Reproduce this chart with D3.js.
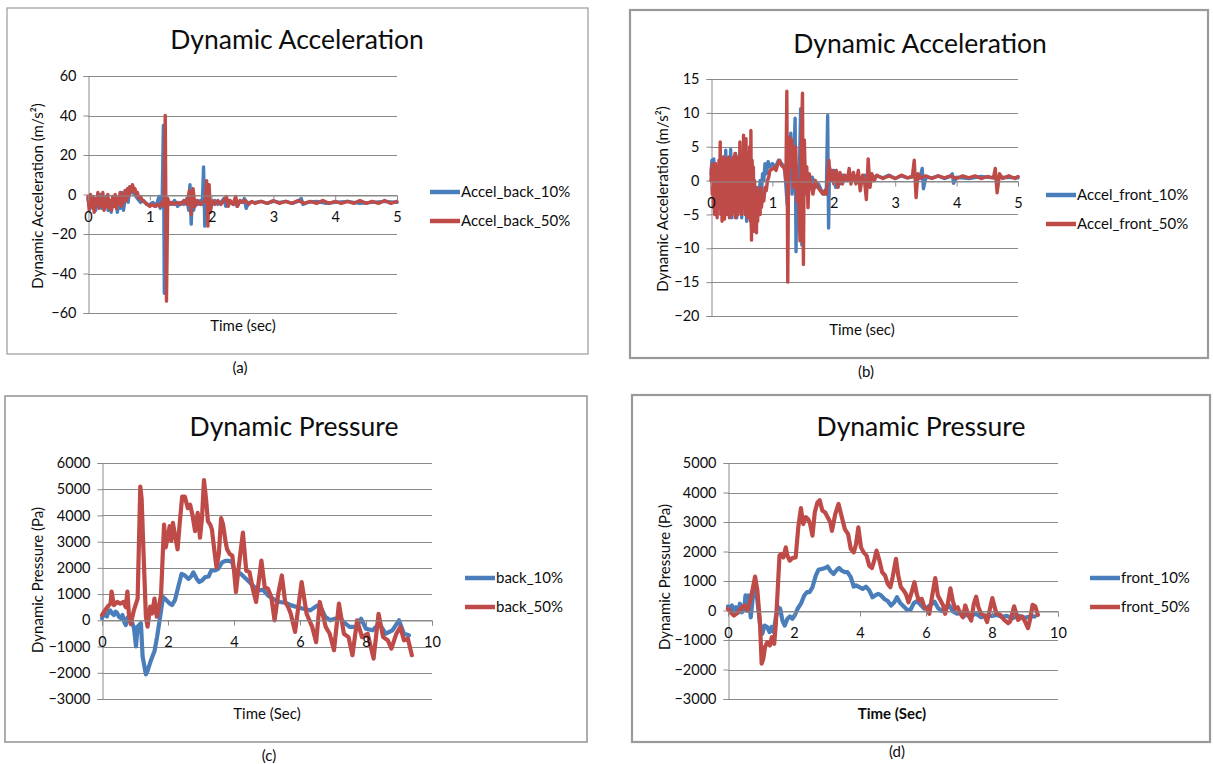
<!DOCTYPE html>
<html>
<head>
<meta charset="utf-8">
<script src="https://cdn.jsdelivr.net/npm/d3@7"></script>
<style>
  body { margin: 0; background: #fff; }
  svg { display: block; }
  text { font-family: Lato, "Open Sans", "DejaVu Sans", sans-serif; fill: #0d0d0d; }
</style>
</head>
<body>
<svg id="fig" width="1213" height="764"></svg>
<script>
// ---------- tick values ----------
const accelTimeTicks = [0, 1, 2, 3, 4, 5];
const pressureTimeTicks = [0, 2, 4, 6, 8, 10];
const accelBackTicks = [-60, -40, -20, 0, 20, 40, 60];
const accelFrontTicks = [-20, -15, -10, -5, 0, 5, 10, 15];
const pressureBackTicks = [-3000, -2000, -1000, 0, 1000, 2000, 3000, 4000, 5000, 6000];
const pressureFrontTicks = [-3000, -2000, -1000, 0, 1000, 2000, 3000, 4000, 5000];

// ---------- series: [time (s), value] ----------
const accelBack10 = [
  [0,-2],[0.025,-6],[0.05,-1],[0.075,-7],[0.1,-3],[0.125,-8],[0.15,-2],[0.175,-6],[0.2,0],[0.225,-7],
  [0.25,-2],[0.275,-5],[0.3,-1],[0.325,-8],[0.35,-4],[0.375,-9],[0.4,-2],[0.425,-6],[0.45,-1],[0.475,-9],
  [0.5,-3],[0.525,-7],[0.55,1],[0.575,-8],[0.6,-2],[0.625,2],[0.65,-4],[0.675,4],[0.7,1],[0.725,3],
  [0.75,0],[0.775,-1],[0.8,-2],[0.85,-4],[0.9,-3],[0.95,-5],[1.0,-5],[1.05,-4],[1.1,-6],[1.15,-1],
  [1.17,-7],[1.2,-4],[1.22,35],[1.235,-50],[1.25,-3],[1.28,-6],[1.32,-4],[1.36,-5],[1.4,-3],[1.45,-6],
  [1.5,-4],[1.55,-5],[1.6,-2],[1.63,-8],[1.65,5],[1.67,-15],[1.69,0],[1.71,-8],[1.74,-3],[1.78,-5],
  [1.82,-3],[1.85,-5],[1.87,14],[1.89,-16],[1.91,2],[1.93,-8],[1.96,-3],[2.0,-5],[2.05,-3],[2.1,-5],
  [2.15,-4],[2.2,-2],[2.23,-6],[2.26,-3],[2.3,-4],[2.35,-5],[2.38,-2],[2.41,-6],[2.45,-4],[2.5,-4],
  [2.53,-2],[2.56,-7],[2.6,-4],[2.7,-4],[2.8,-3.5],[2.9,-4.5],[3.0,-3.5],[3.1,-4],[3.2,-3.5],[3.3,-4.5],
  [3.4,-3.5],[3.45,-2],[3.48,-5],[3.55,-4],[3.7,-3.5],[3.85,-4.5],[4.0,-4],[4.2,-3.5],[4.4,-4.5],[4.6,-4],
  [4.8,-3.5],[5.0,-4]
];
const accelBack50 = [
  [0,-1],[0.02,-8],[0.04,0],[0.06,-6],[0.08,-1],[0.1,-9],[0.12,-2],[0.14,-5],[0.16,1],[0.18,-7],
  [0.2,-2],[0.22,-6],[0.24,1],[0.26,-8],[0.28,-3],[0.3,-6],[0.32,0],[0.34,-7],[0.36,-3],[0.38,-8],
  [0.4,-1],[0.42,-6],[0.44,0],[0.46,-7],[0.48,-2],[0.5,-5],[0.52,1],[0.54,-6],[0.56,0],[0.58,-4],
  [0.6,2],[0.62,-3],[0.64,3],[0.66,-1],[0.68,4],[0.7,1],[0.72,5],[0.74,2],[0.76,3],[0.78,0],
  [0.8,1],[0.82,-2],[0.85,-1],[0.88,-3],[0.92,-4],[0.96,-5],[1.0,-6],[1.04,-5],[1.08,-6],[1.12,-5],
  [1.16,-6],[1.2,-4],[1.23,-6],[1.25,40],[1.27,-54],[1.29,-2],[1.32,-5],[1.36,-4],[1.4,-5],[1.45,-4],
  [1.5,-5],[1.55,-3],[1.6,-5],[1.64,2],[1.67,-10],[1.7,3],[1.73,-6],[1.77,-3],[1.82,-5],[1.86,-4],
  [1.9,-3],[1.92,7],[1.94,-16],[1.96,5],[1.98,-9],[2.01,-3],[2.05,-5],[2.1,-3],[2.15,-5],[2.2,-3],
  [2.24,-1],[2.27,-6],[2.3,-3],[2.35,-5],[2.39,-1],[2.42,-6],[2.46,-3],[2.5,-4],[2.55,-3],[2.6,-5],
  [2.65,-3.5],[2.7,-4.5],[2.8,-3.5],[2.9,-4.5],[3.0,-3],[3.1,-4.5],[3.2,-3.5],[3.3,-4.5],[3.4,-3],[3.5,-4.5],
  [3.6,-3.5],[3.7,-4.5],[3.8,-3],[3.9,-4.5],[4.0,-3.5],[4.1,-4.5],[4.2,-3.5],[4.3,-4.5],[4.4,-3],[4.5,-4.5],
  [4.6,-3.5],[4.7,-4.5],[4.8,-3],[4.9,-4.5],[5.0,-3.5]
];
const accelFront10 = [
  [0,1],[0.015,3],[0.03,-1],[0.045,3.2],[0.06,-2],[0.08,2.5],[0.1,-3],[0.12,2],[0.14,-4],[0.16,3],
  [0.18,-2],[0.2,3.5],[0.22,-5],[0.24,4.5],[0.26,-3],[0.28,3],[0.3,-4],[0.32,4.6],[0.34,-5.5],[0.36,3],
  [0.38,-2],[0.4,4],[0.42,-5.5],[0.44,2],[0.46,-3],[0.48,4],[0.5,-5.5],[0.52,2],[0.54,-4],[0.56,3],
  [0.58,-6],[0.6,1],[0.62,-3],[0.64,0],[0.66,-7],[0.68,-1],[0.7,-7.5],[0.72,-2],[0.74,-6],[0.76,-1],
  [0.78,-4],[0.8,0],[0.82,-2],[0.84,1],[0.86,0],[0.88,2.5],[0.9,1],[0.93,2.8],[0.96,2],[1.0,2.5],
  [1.05,2],[1.1,3],[1.15,2.5],[1.2,2],[1.24,-3.5],[1.27,5],[1.3,7],[1.32,-2],[1.35,3],[1.37,9.2],
  [1.385,-10.5],[1.4,2],[1.43,-3],[1.46,10.6],[1.48,-9.5],[1.5,4],[1.53,-2],[1.56,1],[1.6,-1],[1.65,0.5],
  [1.7,-1],[1.75,-0.5],[1.8,-1.5],[1.85,-2],[1.88,-1],[1.9,9.6],[1.915,-7],[1.93,2],[1.96,0],[2.0,1.5],
  [2.03,-1],[2.07,0.5],[2.1,-0.5],[2.15,0.8],[2.2,0],[2.3,0.6],[2.4,0.2],[2.5,0.8],[2.6,0.3],[2.7,0.7],
  [2.8,0.4],[2.9,0.8],[3.0,0.3],[3.1,0.7],[3.2,0.4],[3.3,0.6],[3.4,0.3],[3.44,1.8],[3.46,-1.2],[3.5,0.5],
  [3.6,0.4],[3.7,0.7],[3.8,0.3],[3.9,0.6],[3.93,1],[3.95,-0.4],[4.0,0.5],[4.2,0.3],[4.4,0.6],[4.6,0.4],
  [4.8,0.5],[5.0,0.4]
];
const accelFront50 = [
  [0,0],[0.01,2],[0.02,-2],[0.03,2.5],[0.04,-4],[0.05,1],[0.06,-5],[0.07,2.5],[0.08,-3],[0.09,2],
  [0.1,-5.5],[0.11,1],[0.12,-2],[0.13,3],[0.14,-4],[0.15,5.7],[0.16,-5],[0.17,3],[0.18,-6],[0.19,2],
  [0.2,-3],[0.21,3.5],[0.22,-5.7],[0.23,2],[0.24,-4],[0.25,3.2],[0.26,-5],[0.27,1],[0.28,-3],[0.29,3.5],
  [0.3,-5.5],[0.31,2.5],[0.32,-4],[0.33,3],[0.34,-5],[0.35,1.5],[0.36,-4.5],[0.37,3.5],[0.38,-2],[0.39,4],
  [0.4,-5.5],[0.41,2],[0.42,-3],[0.43,3.5],[0.44,-5],[0.45,1.5],[0.46,-4],[0.47,5.7],[0.48,-4.5],[0.49,3],
  [0.5,-5],[0.51,4],[0.52,-3],[0.53,6.7],[0.54,-4],[0.55,3],[0.56,-5],[0.57,6.2],[0.58,-3],[0.59,4],
  [0.6,-5.5],[0.61,2],[0.62,-2],[0.63,5],[0.64,-6],[0.65,7.4],[0.66,-8.8],[0.67,3],[0.68,-5],[0.69,2],
  [0.7,-7.4],[0.71,0],[0.72,-6],[0.73,-1],[0.74,-7.7],[0.75,-2],[0.76,-6],[0.77,-1.5],[0.78,-5],[0.79,-2],
  [0.8,-5],[0.81,-1],[0.82,-4],[0.84,-2.5],[0.86,-3],[0.88,-1],[0.9,-1.5],[0.92,0],[0.94,0.5],[0.96,1.5],
  [1.0,1.7],[1.03,2],[1.06,1.5],[1.09,2.5],[1.12,3],[1.15,2.2],[1.18,2],[1.2,1.5],[1.22,0],[1.235,13.2],
  [1.25,-15],[1.265,4],[1.28,6.4],[1.3,2],[1.32,6],[1.34,-1],[1.36,2],[1.38,5],[1.4,-3],[1.42,0],
  [1.45,-8.9],[1.47,5],[1.49,12.9],[1.505,-12.4],[1.52,6],[1.54,-1],[1.56,2],[1.58,-4],[1.6,1],[1.63,-0.5],
  [1.66,-2],[1.7,0],[1.74,-1],[1.78,-1.5],[1.82,-2],[1.85,-1.5],[1.88,-2],[1.9,0.5],[1.92,3],[1.94,0],
  [1.97,1.5],[2.0,-0.5],[2.04,1.5],[2.07,-1],[2.1,1.2],[2.14,-0.5],[2.18,0.8],[2.22,0],[2.25,1.8],[2.28,-0.5],
  [2.32,1.2],[2.36,-0.5],[2.4,1.5],[2.43,-1.5],[2.47,0.8],[2.5,0],[2.53,-2.8],[2.56,3.2],[2.59,-1],[2.62,1],
  [2.66,0],[2.7,0.8],[2.8,0.3],[2.9,0.7],[3.0,0.3],[3.1,0.8],[3.2,0.4],[3.28,0.6],[3.31,3],[3.34,-2.5],
  [3.37,1],[3.42,0.4],[3.5,0.7],[3.6,0.3],[3.7,0.7],[3.8,0.4],[3.9,0.7],[4.0,0.3],[4.1,0.7],[4.2,0.4],
  [4.3,0.7],[4.4,0.3],[4.5,0.6],[4.6,0.4],[4.63,1.8],[4.66,-1.8],[4.7,1],[4.75,0.3],[4.85,0.7],[4.95,0.3],
  [5.0,0.6]
];
const pressureBack10 = [
  [0,80],[0.05,250],[0.1,200],[0.15,150],[0.2,330],[0.25,380],[0.31,260],[0.36,200],[0.41,330],[0.46,280],
  [0.51,140],[0.56,90],[0.62,200],[0.67,-50],[0.72,-180],[0.77,100],[0.82,10],[0.87,-60],[0.92,-110],[0.97,-300],
  [1.03,-990],[1.08,-240],[1.18,-110],[1.23,-1370],[1.33,-2060],[1.38,-1930],[1.49,-1500],[1.59,-1180],[1.67,-620],[1.74,-50],
  [1.85,890],[1.95,770],[2.05,640],[2.12,580],[2.21,770],[2.31,1270],[2.41,1770],[2.51,1710],[2.62,1580],[2.7,1670],
  [2.77,1830],[2.87,1580],[2.95,1460],[3.03,1520],[3.13,1650],[3.23,1670],[3.31,1900],[3.42,1900],[3.52,1960],[3.64,2210],
  [3.74,2270],[3.85,2270],[3.95,2210],[4.01,1900],[4.21,1770],[4.42,1520],[4.57,1330],[4.72,1140],[4.88,1160],[5.03,950],
  [5.18,820],[5.39,700],[5.59,660],[5.74,570],[5.9,510],[6.1,440],[6.31,380],[6.46,510],[6.59,600],[6.77,130],
  [6.92,0],[7.05,60],[7.2,100],[7.35,-100],[7.5,-250],[7.7,-250],[7.85,60],[8.0,-320],[8.2,-380],[8.4,-130],
  [8.6,-510],[8.8,-380],[9.0,0],[9.15,-510],[9.3,-570]
];
const pressureBack50 = [
  [0,200],[0.1,400],[0.2,560],[0.26,640],[0.29,1100],[0.36,580],[0.46,700],[0.55,640],[0.65,700],[0.72,500],
  [0.77,1100],[0.82,140],[0.87,-140],[0.97,400],[1.08,830],[1.16,5100],[1.2,4660],[1.26,2530],[1.33,140],[1.38,-240],
  [1.46,520],[1.52,260],[1.59,830],[1.66,140],[1.71,390],[1.79,1000],[1.88,3650],[1.93,2780],[2.0,3220],[2.05,3590],
  [2.1,3030],[2.15,3720],[2.2,3340],[2.29,2710],[2.36,3780],[2.43,4720],[2.51,4720],[2.6,4280],[2.67,4410],[2.74,4030],
  [2.82,3400],[2.9,4100],[2.97,3150],[3.03,3900],[3.09,5350],[3.15,4660],[3.21,3780],[3.28,3650],[3.33,3470],[3.4,2710],
  [3.47,2020],[3.54,2530],[3.61,3900],[3.67,3650],[3.74,3030],[3.79,2710],[3.87,2530],[3.95,2460],[4.0,1900],[4.06,1080],
  [4.13,1900],[4.27,3350],[4.37,1900],[4.47,1840],[4.57,1200],[4.67,700],[4.83,2280],[4.93,1270],[5.03,1200],[5.13,890],
  [5.23,0],[5.34,1010],[5.45,1710],[5.55,700],[5.64,510],[5.72,250],[5.85,-440],[6.05,1460],[6.2,250],[6.37,-250],
  [6.49,-830],[6.6,700],[6.78,-250],[6.9,-510],[7.03,-1140],[7.18,640],[7.33,-510],[7.47,-640],[7.59,-1330],[7.73,0],
  [7.88,-640],[8.05,-510],[8.23,-1460],[8.38,250],[8.52,-640],[8.66,-760],[8.77,-1080],[8.92,-510],[9.04,-250],[9.15,-760],
  [9.27,-700],[9.39,-1330]
];
const pressureFront10 = [
  [0,140],[0.06,60],[0.12,170],[0.18,-110],[0.24,110],[0.31,-60],[0.36,230],[0.42,-60],[0.49,60],[0.53,510],
  [0.57,0],[0.63,510],[0.69,-230],[0.76,560],[0.82,900],[0.89,340],[0.97,-450],[1.04,-790],[1.11,-510],[1.19,-560],
  [1.26,-730],[1.32,-560],[1.38,-730],[1.45,-230],[1.52,110],[1.58,60],[1.65,-340],[1.72,-510],[1.8,-280],[1.88,-200],
  [1.95,-280],[2.02,-170],[2.11,60],[2.21,230],[2.31,510],[2.39,620],[2.47,620],[2.56,790],[2.66,1180],[2.74,1380],
  [2.84,1410],[2.94,1440],[3.02,1490],[3.1,1350],[3.2,1240],[3.3,1380],[3.37,1440],[3.45,1350],[3.54,1300],[3.62,1300],
  [3.72,1130],[3.81,810],[3.88,850],[3.98,790],[4.08,730],[4.18,810],[4.28,680],[4.38,450],[4.46,510],[4.55,560],
  [4.64,510],[4.74,390],[4.84,320],[4.94,170],[5.04,280],[5.12,450],[5.22,250],[5.32,140],[5.43,20],[5.53,20],
  [5.63,250],[5.73,320],[5.83,200],[5.95,60],[6.05,110],[6.15,200],[6.26,300],[6.36,90],[6.48,-20],[6.58,60],
  [6.71,170],[6.81,-20],[6.94,-110],[7.06,-60],[7.22,-170],[7.37,-170],[7.52,-110],[7.67,-230],[7.82,-170],[8.0,-180],
  [8.15,-150],[8.3,-220],[8.45,-180],[8.6,-270],[8.8,-180],[9.0,-250],[9.15,-200],[9.3,-200]
];
const pressureFront50 = [
  [0,60],[0.08,-60],[0.18,-170],[0.28,-90],[0.38,60],[0.49,170],[0.59,0],[0.69,390],[0.82,1150],[0.89,680],
  [0.97,-450],[1.02,-1800],[1.07,-1630],[1.12,-1240],[1.19,-1070],[1.27,-1180],[1.33,-900],[1.4,-1130],[1.45,-450],[1.5,560],
  [1.56,1860],[1.62,1920],[1.68,1800],[1.75,2140],[1.8,1860],[1.87,1690],[1.95,1780],[2.05,1800],[2.13,2820],[2.21,3470],
  [2.28,2930],[2.36,3160],[2.43,3100],[2.49,2930],[2.56,2540],[2.63,3330],[2.71,3660],[2.78,3740],[2.86,3380],[2.94,3330],
  [3.02,3160],[3.1,2990],[3.15,2700],[3.25,3270],[3.35,3610],[3.45,3160],[3.54,2760],[3.64,2590],[3.72,2090],[3.81,1970],
  [3.88,2250],[3.95,2820],[4.03,2140],[4.11,1970],[4.2,1860],[4.28,1520],[4.36,1440],[4.43,1690],[4.5,2030],[4.59,1690],
  [4.67,1300],[4.76,1180],[4.84,900],[4.92,790],[4.99,1130],[5.09,1750],[5.16,1180],[5.24,790],[5.32,680],[5.39,560],
  [5.47,280],[5.55,560],[5.65,960],[5.72,560],[5.78,340],[5.87,390],[5.95,110],[6.03,60],[6.1,-110],[6.18,450],
  [6.28,1100],[6.36,510],[6.44,340],[6.52,170],[6.58,-110],[6.66,230],[6.74,750],[6.81,340],[6.88,60],[6.96,110],
  [7.04,-110],[7.12,-230],[7.19,170],[7.27,-110],[7.37,-340],[7.45,230],[7.52,470],[7.59,110],[7.67,-110],[7.77,-170],
  [7.85,-390],[8.01,420],[8.13,-90],[8.25,-150],[8.37,-320],[8.49,-430],[8.55,-370],[8.67,140],[8.79,-320],[8.91,-200],
  [9.0,-370],[9.09,-600],[9.15,-320],[9.23,190],[9.31,140],[9.39,-150]
];

// ---------- styling ----------
const BLUE = "#4a7ebb";
const RED = "#be4b48";
const GRID = "#8a8a8a";

const svg = d3.select("#fig");

const panels = [
  {
    frame: [7, 8, 588, 354], frameW: 1.2,
    plot: { x0: 88, x1: 397, yTop: 76, yBot: 313 },
    xDomain: [0, 5], xTicks: accelTimeTicks,
    yDomain: [-60, 60], yTicks: accelBackTicks,
    title: "Dynamic Acceleration", titleXY: [297, 49],
    yTitle: "Dynamic Acceleration (m/s²)", yTitleXY: [38, 196],
    xTitle: "Time (sec)", xTitleXY: [243, 331], xTitleBold: false,
    legendX: 430, legendY: [192, 221],
    series: [
      { name: "Accel_back_10%", data: accelBack10, color: BLUE },
      { name: "Accel_back_50%", data: accelBack50, color: RED }
    ],
    lineW: 3.4,
    caption: "(a)", captionXY: [240, 373]
  },
  {
    frame: [630, 10, 1208, 358], frameW: 2.2,
    plot: { x0: 711, x1: 1018, yTop: 79, yBot: 316 },
    xDomain: [0, 5], xTicks: accelTimeTicks,
    yDomain: [-20, 15], yTicks: accelFrontTicks,
    title: "Dynamic Acceleration", titleXY: [920, 53],
    yTitle: "Dynamic Acceleration (m/s²)", yTitleXY: [663, 199],
    xTitle: "Time (sec)", xTitleXY: [862, 335], xTitleBold: false,
    legendX: 1046, legendY: [195, 224],
    series: [
      { name: "Accel_front_10%", data: accelFront10, color: BLUE },
      { name: "Accel_front_50%", data: accelFront50, color: RED }
    ],
    lineW: 3.4,
    caption: "(b)", captionXY: [866, 377]
  },
  {
    frame: [5, 396, 587, 742], frameW: 1.6,
    plot: { x0: 102, x1: 432, yTop: 463, yBot: 699 },
    xDomain: [0, 10], xTicks: pressureTimeTicks,
    yDomain: [-3000, 6000], yTicks: pressureBackTicks,
    title: "Dynamic Pressure", titleXY: [294, 436],
    yTitle: "Dynamic Pressure (Pa)", yTitleXY: [38, 580],
    xTitle: "Time (Sec)", xTitleXY: [267, 719], xTitleBold: false,
    legendX: 465, legendY: [578, 607],
    series: [
      { name: "back_10%", data: pressureBack10, color: BLUE },
      { name: "back_50%", data: pressureBack50, color: RED }
    ],
    lineW: 4.2,
    caption: "(c)", captionXY: [269, 761]
  },
  {
    frame: [632, 395, 1210, 742], frameW: 2.2,
    plot: { x0: 728, x1: 1058, yTop: 463, yBot: 699 },
    xDomain: [0, 10], xTicks: pressureTimeTicks,
    yDomain: [-3000, 5000], yTicks: pressureFrontTicks,
    title: "Dynamic Pressure", titleXY: [921, 436],
    yTitle: "Dynamic Pressure (Pa)", yTitleXY: [665, 577],
    xTitle: "Time (Sec)", xTitleXY: [892, 719], xTitleBold: true,
    legendX: 1090, legendY: [578, 607],
    series: [
      { name: "front_10%", data: pressureFront10, color: BLUE },
      { name: "front_50%", data: pressureFront50, color: RED }
    ],
    lineW: 4.2,
    caption: "(d)", captionXY: [897, 757]
  }
];

function drawPanel(p) {
  const g = svg.append("g");
  const [fx0, fy0, fx1, fy1] = p.frame;
  g.append("rect")
    .attr("x", fx0).attr("y", fy0)
    .attr("width", fx1 - fx0).attr("height", fy1 - fy0)
    .attr("fill", "#fff").attr("stroke", "#9a9a9a").attr("stroke-width", p.frameW);

  const x = d3.scaleLinear().domain(p.xDomain).range([p.plot.x0, p.plot.x1]);
  const y = d3.scaleLinear().domain(p.yDomain).range([p.plot.yBot, p.plot.yTop]);

  // horizontal gridlines
  g.append("g").selectAll("line").data(p.yTicks).join("line")
    .attr("x1", p.plot.x0).attr("x2", p.plot.x1)
    .attr("y1", d => Math.round(y(d)) + 0.5).attr("y2", d => Math.round(y(d)) + 0.5)
    .attr("stroke", GRID).attr("stroke-width", 1);

  // value axis
  const yAxis = g.append("g")
    .attr("transform", `translate(${Math.round(p.plot.x0) + 0.5},0)`)
    .call(d3.axisLeft(y).tickValues(p.yTicks).tickSize(5).tickPadding(7).tickFormat(d3.format("d")));
  yAxis.select(".domain").attr("stroke", GRID);
  yAxis.selectAll(".tick line").attr("stroke", GRID);
  yAxis.selectAll(".tick text").attr("font-size", 14.5).attr("fill", "#0d0d0d");

  // time axis crossing at zero
  const xAxis = g.append("g")
    .attr("transform", `translate(0,${Math.round(y(0)) + 0.5})`)
    .call(d3.axisBottom(x).tickValues(p.xTicks).tickSize(5).tickPadding(11).tickFormat(d3.format("d")));
  xAxis.select(".domain").attr("stroke", GRID);
  xAxis.selectAll(".tick line").attr("stroke", GRID);
  xAxis.selectAll(".tick text").attr("font-size", 14.5).attr("fill", "#0d0d0d");
  svg.selectAll(".domain").attr("fill", "none");
  g.selectAll(".tick text").attr("font-family", "Lato, 'Open Sans', sans-serif");

  // series lines (later series drawn on top)
  const line = d3.line().x(d => x(d[0])).y(d => y(d[1]));
  p.series.forEach(s => {
    g.append("path").datum(s.data)
      .attr("d", line)
      .attr("fill", "none")
      .attr("stroke", s.color)
      .attr("stroke-width", p.lineW)
      .attr("stroke-linejoin", "round")
      .attr("stroke-linecap", "round");
  });

  // axis labels are redrawn above the series
  xAxis.raise();

  // title
  g.append("text")
    .attr("x", p.titleXY[0]).attr("y", p.titleXY[1])
    .attr("text-anchor", "middle").attr("font-size", 26.5)
    .text(p.title);

  // axis titles
  g.append("text")
    .attr("transform", `translate(${p.yTitleXY[0]},${p.yTitleXY[1]}) rotate(-90)`)
    .attr("text-anchor", "middle").attr("dy", "0.35em").attr("font-size", 15)
    .text(p.yTitle);
  g.append("text")
    .attr("x", p.xTitleXY[0]).attr("y", p.xTitleXY[1])
    .attr("text-anchor", "middle").attr("font-size", 15)
    .attr("font-weight", p.xTitleBold ? "bold" : "normal")
    .text(p.xTitle);

  // legend
  p.series.forEach((s, i) => {
    const ly = p.legendY[i];
    g.append("line")
      .attr("x1", p.legendX).attr("x2", p.legendX + 30)
      .attr("y1", ly).attr("y2", ly)
      .attr("stroke", s.color).attr("stroke-width", 4.5);
    g.append("text")
      .attr("x", p.legendX + 31).attr("y", ly)
      .attr("dy", "0.35em").attr("font-size", 15)
      .text(s.name);
  });

  // caption below the frame
  svg.append("text")
    .attr("x", p.captionXY[0]).attr("y", p.captionXY[1])
    .attr("text-anchor", "middle").attr("font-size", 15)
    .text(p.caption);
}

panels.forEach(drawPanel);
</script>
</body>
</html>
